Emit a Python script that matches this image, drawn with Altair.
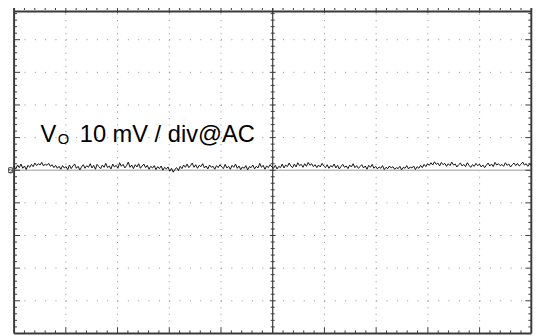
import altair as alt
import pandas as pd
import numpy as np

# ---- data read from the scope capture (trace in mV, 10 mV/div, AC coupled) ----
trace_mv = [
    1.2, 0.4, 1.6, 0.8, 1.9, 0.6, 1.3, 0.2, 1.5, 0.9,
    1.8, 1.1, 2.2, 1.4, 2.0, 1.6, 2.4, 1.3, 1.9, 1.5,
    2.1, 1.2, 1.7, 0.8, 1.5, 0.6, 1.2, 0.3, 1.4, 0.7,
    1.1, 0.2, 1.6, 0.5, 1.3, 1.9, 0.6, 1.2, 0.1, 1.0,
    1.7, 0.6, 1.4, 0.9, 2.0, 0.7, 1.5, 0.3, 1.8, 1.1,
    0.5, 1.6, 0.9, 2.1, 0.8, 1.3, 0.4, 1.9, 1.0, 1.5,
    0.6, 2.3, 1.2, 1.8, 0.7, 1.4, 2.5, 0.9, 1.6, 0.5,
    1.7, 1.0, 2.0, 0.6, 1.3, 1.9, 0.8, 1.5, 0.3, 1.2,
    0.7, 1.4, 0.2, 1.1, 0.5, 1.3, 0.0, 0.9, 0.4, 1.0,
    -0.3, 0.6, -0.6, 0.3, 0.8, -0.1, 1.2, 0.5, 1.6, 0.9,
    1.9, 0.8, 1.4, 2.2, 0.9, 1.7, 0.6, 1.5, 1.1, 2.0,
    0.7, 1.3, 0.4, 1.6, 0.9, 1.2, 0.3, 1.4, 0.8, 1.7,
    1.0, 0.5, 1.8, 0.7, 1.2, 0.3, 1.5, 0.9, 1.9, 0.6,
    1.3, 0.2, 1.0, 0.6, 1.4, 0.1, 1.1, 0.8, 1.6, 0.4,
    1.2, 0.7, 2.1, 0.9, 1.5, 0.3, 1.3, 0.8, 1.7, 1.0,
    0.6, 1.5, 0.4, 1.2, 0.8, 1.9, 0.7, 1.6, 1.1, 2.2,
    1.3, 0.8, 1.9, 1.0, 2.3, 1.4, 1.8, 0.9, 2.0, 1.2,
    2.4, 1.5, 2.0, 1.1, 1.7, 0.8, 1.6, 1.0, 2.1, 1.3,
    0.8, 1.7, 0.6, 1.4, 1.0, 1.9, 0.7, 1.5, 0.4, 1.2,
    1.8, 0.9, 1.3, 0.5, 1.6, 1.0, 2.0, 0.8, 1.4, 0.6,
    1.1, 1.7, 0.7, 1.3, 0.3, 1.5, 0.9, 1.8, 0.6, 1.2,
    0.4, 1.0, 0.6, 1.4, 0.2, 0.9, 0.5, 1.3, 0.7, 1.1,
    0.3, 0.8, 0.5, 1.2, 0.1, 0.9, 0.6, 1.4, 0.4, 1.0,
    0.7, 1.3, 0.2, 1.1, 0.6, 1.5, 0.8, 1.8, 1.1, 2.0,
    1.5, 2.3, 1.6, 2.6, 1.8, 2.2, 1.3, 2.4, 1.7, 2.1,
    1.2, 2.0, 1.4, 2.5, 1.6, 1.9, 1.0, 1.7, 2.2, 1.3,
    1.8, 1.1, 2.3, 1.5, 0.9, 1.7, 1.2, 2.1, 1.4, 1.9,
    1.0, 1.6, 0.8, 1.5, 2.2, 1.3, 1.9, 1.1, 2.4, 1.6,
    2.0, 1.4, 1.8, 1.2, 2.3, 1.5, 1.9, 1.0, 1.7, 2.2,
    1.4, 2.1, 1.3, 1.8, 2.5, 1.6, 2.0, 1.2, 1.9, 1.5,
]
mv_per_div = 10
label_v = "V"
label_sub = "O"
label_main = "10 mV / div@AC"
channel_label = "2"

# graticule: 10 x 10 divisions, 5 minor ticks per division
n_div_x = 10
n_div_y = 10
minor = 5

x_domain = [-0.1181, 10.1486]
y_domain = [-5.005, 4.897]

xs = alt.Scale(domain=x_domain, nice=False, zero=False)
ys = alt.Scale(domain=y_domain, nice=False, zero=False)

def X(f="x"):
    return alt.X(f"{f}:Q", scale=xs, axis=None)

def Y(f="y"):
    return alt.Y(f"{f}:Q", scale=ys, axis=None)

half_y = n_div_y / 2
trace = pd.DataFrame({
    "x": np.linspace(0, n_div_x, len(trace_mv)),
    "y": np.array(trace_mv) / mv_per_div,
})

gv = pd.DataFrame({"x": [i for i in range(1, n_div_x) if i != n_div_x // 2],
                   "y": half_y, "y2": -half_y})
gh = pd.DataFrame({"y": [j for j in range(-int(half_y) + 1, int(half_y)) if j != 0],
                   "x": 0, "x2": n_div_x})

frame_col = "#3a3a3a"
dot_col = "#8f8f8f"

grid_v = alt.Chart(gv).mark_rule(color=dot_col, strokeWidth=1, strokeDash=[1, 5.625]).encode(
    x=X(), y=Y(), y2="y2:Q")
grid_h = alt.Chart(gh).mark_rule(color=dot_col, strokeWidth=1, strokeDash=[1, 9.5]).encode(
    y=Y(), x=X(), x2="x2:Q")

center_h = alt.Chart(pd.DataFrame({"y": [0], "x": [0], "x2": [n_div_x]})).mark_rule(
    color="#bdbdbd", strokeWidth=1.5).encode(y=Y(), x=X(), x2="x2:Q")
center_v = alt.Chart(pd.DataFrame({"x": [n_div_x / 2], "y": [half_y], "y2": [-half_y]})).mark_rule(
    color=frame_col, strokeWidth=1.2).encode(x=X(), y=Y(), y2="y2:Q")

# minor / major tick positions
yk = np.arange(-half_y * minor + 1, half_y * minor) / minor
y_minor = [v for v in yk if abs(v - round(v)) > 1e-6]
y_major = [v for v in yk if abs(v - round(v)) <= 1e-6]
xk = np.arange(1, n_div_x * minor) / minor
x_minor = [v for v in xk if abs(v - round(v)) > 1e-6]
x_major = [v for v in xk if abs(v - round(v)) <= 1e-6]

def vticks(xpos, ylist, off1, off2, w=1):
    df = pd.DataFrame({"y": ylist, "x": xpos})
    return alt.Chart(df).mark_rule(color=frame_col, strokeWidth=w, xOffset=off1, x2Offset=off2).encode(
        y=Y(), x=X(), x2="x:Q")

def hticks(ypos, xlist, off1, off2, w=1):
    df = pd.DataFrame({"x": xlist, "y": ypos})
    return alt.Chart(df).mark_rule(color=frame_col, strokeWidth=w, yOffset=off1, y2Offset=off2).encode(
        x=X(), y=Y(), y2="y:Q")

ticks = [
    vticks(0, y_minor, 0, 3), vticks(0, y_major, 0, 6),
    vticks(n_div_x, y_minor, 0, -3), vticks(n_div_x, y_major, 0, -6),
    hticks(half_y, x_minor, 0, 3), hticks(half_y, x_major, 0, 6),
    hticks(-half_y, x_minor, 0, -3), hticks(-half_y, x_major, 0, -6),
    vticks(n_div_x / 2, y_minor, -2, 2), vticks(n_div_x / 2, y_major, -3, 3),
]

frame_lr = alt.Chart(pd.DataFrame({"x": [0, n_div_x], "y": half_y + 0.2, "y2": -half_y})).mark_rule(
    color=frame_col, strokeWidth=2).encode(x=X(), y=Y(), y2="y2:Q")
frame_top = alt.Chart(pd.DataFrame({"y": [y_domain[1]], "x": [0], "x2": [n_div_x]})).mark_rule(
    color=frame_col, strokeWidth=2, yOffset=1, y2Offset=1).encode(y=Y(), x=X(), x2="x2:Q")
frame_bot = alt.Chart(pd.DataFrame({"y": [-half_y], "x": [0], "x2": [n_div_x]})).mark_rule(
    color=frame_col, strokeWidth=2).encode(y=Y(), x=X(), x2="x2:Q")

line = alt.Chart(trace).mark_line(color="#111111", strokeWidth=1, interpolate="linear").encode(
    x=X(), y=Y())

marker_df = pd.DataFrame({"x": [-0.07], "y": [0.0], "t": [channel_label]})
marker = alt.Chart(marker_df).mark_point(shape="circle", filled=True, size=42, color="#555555", opacity=1).encode(
    x=X(), y=Y())
marker_txt = alt.Chart(marker_df).mark_text(fontSize=6, color="white", fontWeight="bold",
                                            baseline="middle", align="center").encode(x=X(), y=Y(), text="t:N")

font = "Liberation Sans"
t_v = alt.Chart(pd.DataFrame({"x": [0.51], "y": [0.851], "t": [label_v]})).mark_text(
    font=font, fontSize=24, align="left", baseline="alphabetic", color="black").encode(x=X(), y=Y(), text="t:N")
t_sub = alt.Chart(pd.DataFrame({"x": [0.844], "y": [0.806], "t": [label_sub]})).mark_text(
    font=font, fontSize=15, align="left", baseline="alphabetic", color="black").encode(x=X(), y=Y(), text="t:N")
t_main = alt.Chart(pd.DataFrame({"x": [4.653], "y": [0.851], "t": [label_main]})).mark_text(
    font=font, fontSize=24, align="right", baseline="alphabetic", color="black").encode(x=X(), y=Y(), text="t:N")

chart = alt.layer(
    grid_v, grid_h, center_h, center_v, *ticks, frame_lr, frame_top, frame_bot,
    line, marker, marker_txt, t_v, t_sub, t_main
).properties(
    width=539, height=328, padding=0,
    autosize=alt.AutoSizeParams(type="none"),
    background="white",
).configure_view(stroke=None)

chart.save("out.html", embed_options={"renderer": "svg", "actions": False})
